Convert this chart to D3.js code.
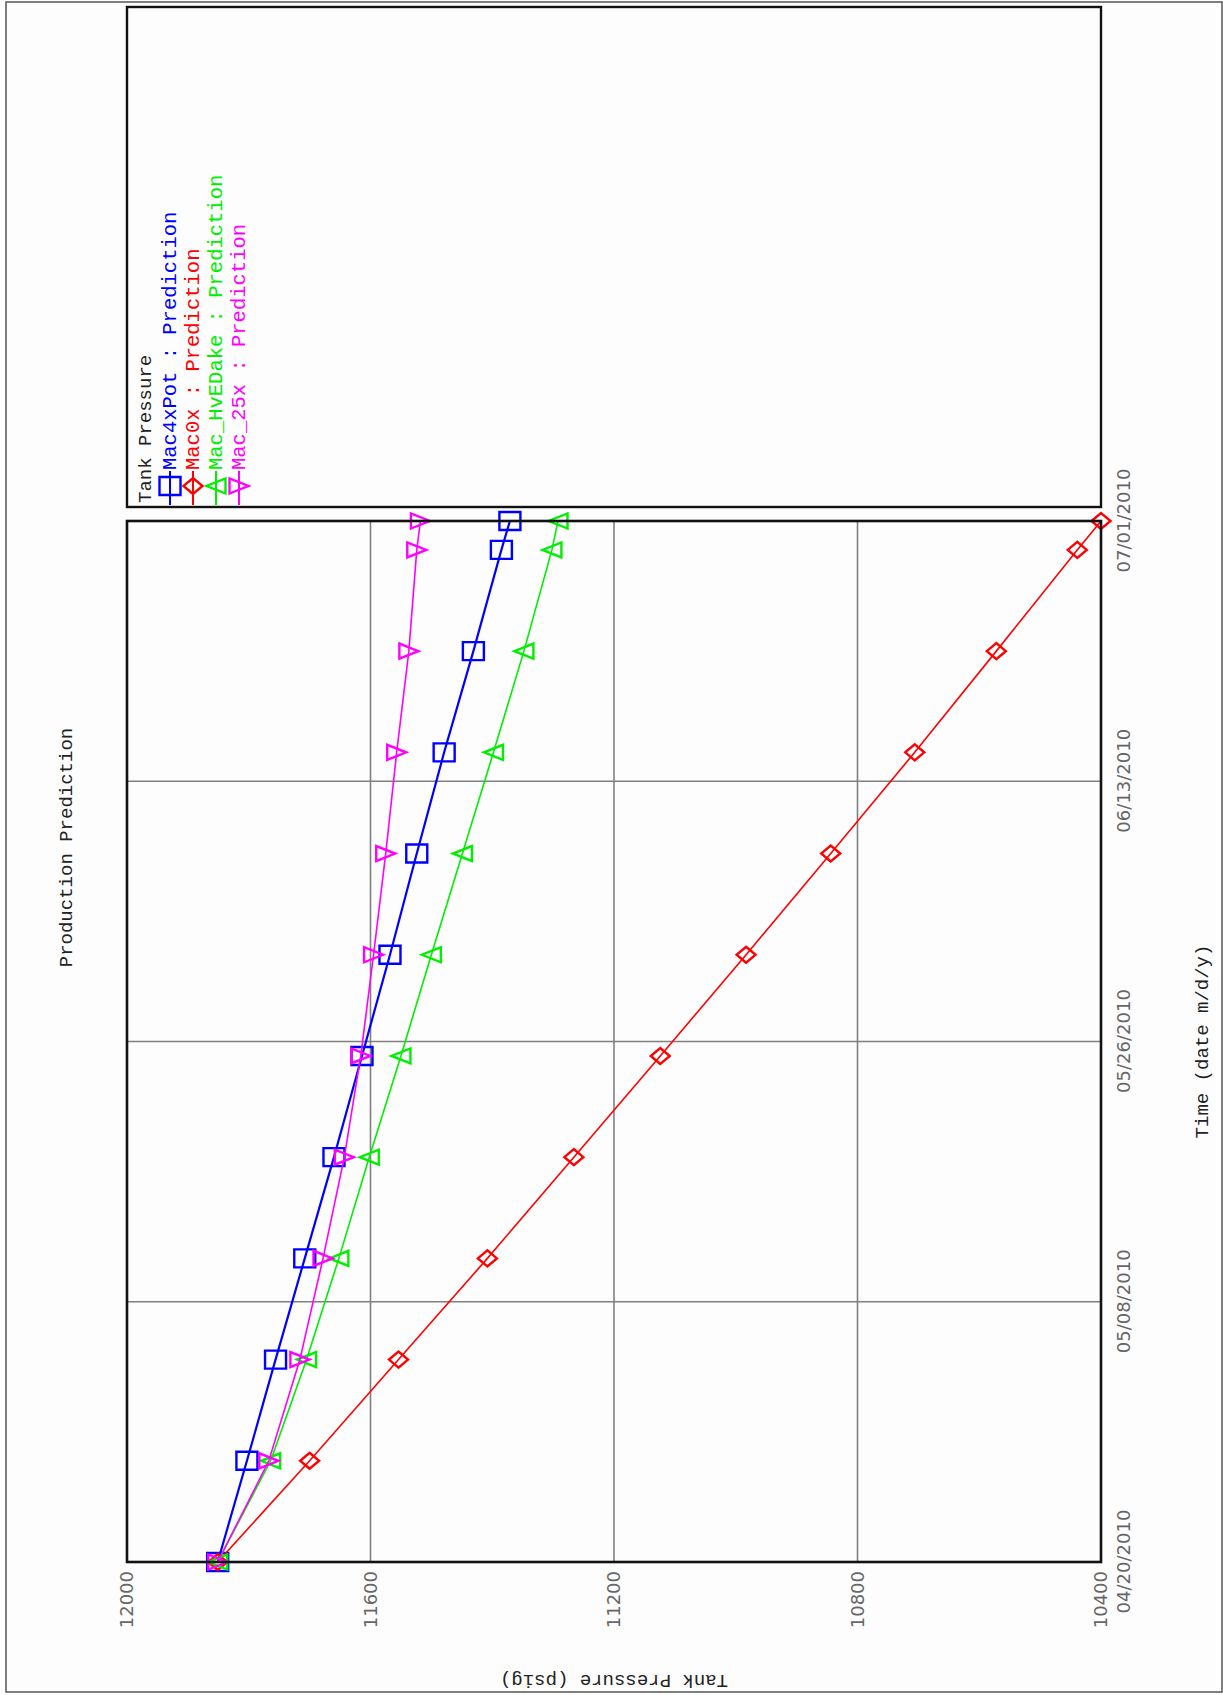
<!DOCTYPE html>
<html>
<head>
<meta charset="utf-8">
<script src="https://cdn.jsdelivr.net/npm/d3@7"></script>
<style>
  html, body { margin: 0; padding: 0; background: #fdfdfd; }
  svg { display: block; }
</style>
</head>
<body>
<script>
// Sample dates (weekly) and tank pressure predictions (psig) per model
const dates = ["2010-04-20", "2010-04-27", "2010-05-04", "2010-05-11", "2010-05-18", "2010-05-25",
               "2010-06-01", "2010-06-08", "2010-06-15", "2010-06-22", "2010-06-29", "2010-07-01"];
const mac4xPot   = [11851, 11803, 11756, 11708, 11660, 11614, 11568, 11524, 11479, 11431, 11385, 11371];
const mac0x      = [11851, 11700, 11554, 11408, 11266, 11124, 10983, 10844, 10706, 10572, 10439, 10400];
const macHvEDake = [11851, 11764, 11705, 11652, 11602, 11550, 11500, 11449, 11398, 11348, 11302, 11292];
const mac25x     = [11851, 11767, 11716, 11678, 11643, 11616, 11595, 11575, 11557, 11537, 11524, 11518];

const seriesNames  = ["Mac4xPot : Prediction", "Mac0x : Prediction", "Mac_HvEDake : Prediction", "Mac_25x : Prediction"];
const seriesColors = ["#0000ff", "#ff0000", "#00ee00", "#ff00ff"];
const seriesShapes = ["square", "diamond", "triangleUp", "triangleDown"];

const dateTicks = ["2010-04-20", "2010-05-08", "2010-05-26", "2010-06-13", "2010-07-01"];
const pressureTicks = [12000, 11600, 11200, 10800, 10400];

const chartTitle = "Production Prediction";
const xTitle = "Time (date m/d/y)";
const yTitle = "Tank Pressure (psig)";
const legendTitle = "Tank Pressure";

// Page is drawn in landscape coordinates, then turned a quarter turn onto the portrait page
const PAGE_W = 1223, PAGE_H = 1695;
const W = PAGE_H, H = PAGE_W;   // landscape drawing size
const parse = d3.utcParse("%Y-%m-%d");
const fmt = d3.utcFormat("%m/%d/%Y");

const plot = { left: 133, right: 1174, top: 127, bottom: 1101 };
const legendBox = { left: 1188, right: 1688, top: 127, bottom: 1101 };

const x = d3.scaleUtc()
  .domain([parse(dateTicks[0]), parse(dateTicks[dateTicks.length - 1])])
  .range([plot.left, plot.right]);
const y = d3.scaleLinear().domain([10400, 12000]).range([plot.bottom, plot.top]);

const svg = d3.select("body").append("svg")
  .attr("width", PAGE_W).attr("height", PAGE_H);

svg.append("rect").attr("width", PAGE_W).attr("height", PAGE_H).attr("fill", "#fdfdfd");

const root = svg.append("g")
  .attr("transform", `translate(0,${PAGE_H}) rotate(-90)`);

const monoFont = "'Liberation Mono', 'Courier New', monospace";
const sansFont = "'DejaVu Sans', Verdana, sans-serif";

// outer frame
root.append("rect")
  .attr("x", 3).attr("y", 6).attr("width", W - 5).attr("height", H - 7)
  .attr("fill", "none").attr("stroke", "#555").attr("stroke-width", 1.5);

// title
root.append("text")
  .attr("x", W / 2).attr("y", 72)
  .attr("text-anchor", "middle")
  .attr("font-family", monoFont)
  .attr("font-size", 19).attr("fill", "#222")
  .text(chartTitle);

// grid lines
const grid = root.append("g").attr("stroke", "#808080").attr("stroke-width", 1.6);
grid.selectAll("line.v")
  .data(dateTicks.slice(1, -1).map(parse))
  .join("line")
  .attr("x1", d => x(d)).attr("x2", d => x(d))
  .attr("y1", plot.top).attr("y2", plot.bottom);
grid.selectAll("line.h")
  .data(pressureTicks.slice(1, -1))
  .join("line")
  .attr("x1", plot.left).attr("x2", plot.right)
  .attr("y1", d => y(d)).attr("y2", d => y(d));

// axis tick labels
const xAxis = d3.axisBottom(x)
  .tickValues(dateTicks.map(parse))
  .tickFormat(fmt).tickSize(0).tickPadding(16);
const xg = root.append("g").attr("transform", `translate(0,${plot.bottom})`).call(xAxis);
xg.select(".domain").remove();
xg.selectAll("text")
  .attr("font-family", sansFont)
  .attr("font-size", 18).attr("fill", "#666");

const yAxis = d3.axisLeft(y)
  .tickValues(pressureTicks)
  .tickFormat(d3.format("d"))
  .tickSize(0).tickPadding(9);
const yg = root.append("g").attr("transform", `translate(${plot.left},0)`).call(yAxis);
yg.select(".domain").remove();
yg.selectAll("text")
  .attr("font-family", sansFont)
  .attr("font-size", 18).attr("fill", "#666");

// axis titles
root.append("text")
  .attr("x", (plot.left + plot.right) / 2).attr("y", 1208)
  .attr("text-anchor", "middle")
  .attr("font-family", monoFont)
  .attr("font-size", 19).attr("fill", "#222")
  .text(xTitle);

root.append("text")
  .attr("transform", `translate(20,${(plot.top + plot.bottom) / 2}) rotate(-90)`)
  .attr("text-anchor", "middle")
  .attr("font-family", monoFont)
  .attr("font-size", 19).attr("fill", "#222")
  .text(yTitle);

// marker shapes
function markerPath(shape) {
  switch (shape) {
    case "square": return "M-9,-10.5H9V10.5H-9Z";
    case "diamond": return "M-8,0L0,-9.5L8,0L0,9.5Z";
    case "triangleUp": return "M-7.5,9.5L0,-9.5L7.5,9.5Z";
    case "triangleDown": return "M-7.5,-9.5L0,9.5L7.5,-9.5Z";
  }
}

const seriesValues = [mac4xPot, mac0x, macHvEDake, mac25x];
const parsedDates = dates.map(parse);
const line = d3.line().x(d => x(d.date)).y(d => y(d.value));

seriesValues.forEach((vals, i) => {
  const pts = vals.map((v, j) => ({ date: parsedDates[j], value: v }));
  const g = root.append("g");
  g.append("path")
    .datum(pts)
    .attr("d", line)
    .attr("fill", "none")
    .attr("stroke", seriesColors[i])
    .attr("stroke-width", i === 0 ? 2.2 : 1.6);
  g.selectAll("path.m")
    .data(pts)
    .join("path")
    .attr("class", "m")
    .attr("transform", d => `translate(${x(d.date)},${y(d.value)})`)
    .attr("d", markerPath(seriesShapes[i]))
    .attr("fill", "none")
    .attr("stroke", seriesColors[i])
    .attr("stroke-width", 2.4);
});

// plot border
root.append("rect")
  .attr("x", plot.left).attr("y", plot.top)
  .attr("width", plot.right - plot.left).attr("height", plot.bottom - plot.top)
  .attr("fill", "none").attr("stroke", "#111").attr("stroke-width", 2.6);

// legend
const lg = root.append("g");
lg.append("rect")
  .attr("x", legendBox.left).attr("y", legendBox.top)
  .attr("width", legendBox.right - legendBox.left).attr("height", legendBox.bottom - legendBox.top)
  .attr("fill", "none").attr("stroke", "#111").attr("stroke-width", 2.4);
lg.append("text")
  .attr("x", 1192).attr("y", 151)
  .attr("font-family", monoFont)
  .attr("font-size", 19).attr("fill", "#222")
  .text(legendTitle);

seriesNames.forEach((name, i) => {
  const cy = 170 + i * 23;
  lg.append("line")
    .attr("x1", 1190).attr("x2", 1224).attr("y1", cy).attr("y2", cy)
    .attr("stroke", seriesColors[i]).attr("stroke-width", 2);
  lg.append("path")
    .attr("transform", `translate(1209,${cy})`)
    .attr("d", markerPath(seriesShapes[i]))
    .attr("fill", "none").attr("stroke", seriesColors[i]).attr("stroke-width", 2.4);
  lg.append("text")
    .attr("x", 1225).attr("y", cy + 6)
    .attr("font-family", monoFont)
    .attr("font-size", 20.5).attr("fill", seriesColors[i])
    .text(name);
});
</script>
</body>
</html>
